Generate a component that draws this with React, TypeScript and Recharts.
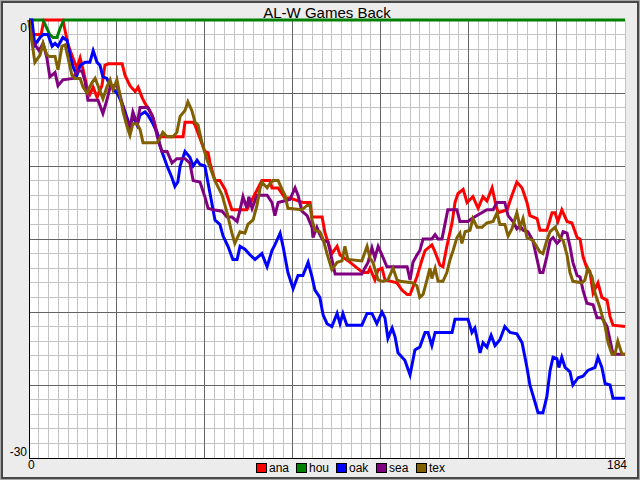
import React from 'react';
import { LineChart, Line, XAxis, YAxis, CartesianGrid, Legend } from 'recharts';

// [game, games back]
const anaPoints: [number, number][] = [
  [0,0],[1.2,-1],[3.7,-1],[4.6,0],[10.4,0],[12,-1.7],[13.5,-2.6],[14.7,-3.3],[15.7,-2.6],[16.6,-3.4],
  [17.8,-4.6],[18.7,-5.1],[19.7,-4.6],[20.9,-5.3],[22.4,-4.5],[23.3,-3.1],[24.3,-3],[28.6,-3],[29.5,-3.8],[31,-4.5],
  [32.6,-4.9],[33.5,-4.6],[34.7,-5.3],[35.6,-5.7],[36.5,-6],[37.8,-6.5],[38.7,-7.2],[39.6,-7.9],[40.8,-8],[47.3,-8],
  [47.9,-7],[50.4,-7],[51,-7.2],[54,-9],[55,-9.1],[55.6,-9.8],[57.1,-11],[58.6,-11],[60.2,-11.6],[62.3,-13],
  [66.9,-13],[71.5,-11],[74,-11],[74.6,-11.5],[76.5,-11.5],[78.6,-12.2],[80.1,-12.2],[84.1,-12.5],[86.3,-12.5],[86.9,-13.5],
  [90,-13.5],[90.9,-14.6],[93,-16],[94.6,-15.5],[95.5,-16.1],[98.6,-16.6],[102.5,-17.3],[104.1,-17.3],[104.7,-17],[106.2,-17.8],
  [107.2,-17.1],[108.4,-17],[109.3,-17.8],[113,-18],[114.5,-18.5],[116.1,-18.8],[117,-18.8],[119.1,-17.6],[120.7,-16.4],[121.6,-15.8],
  [123.7,-15.4],[124.7,-15.9],[126.2,-16.8],[127.1,-16.9],[128.3,-15.5],[129.9,-13.9],[130.8,-12.5],[131.7,-11.9],[133.3,-11.6],[134.5,-12.5],
  [136.3,-12.1],[137.9,-12.9],[139.4,-12.1],[140.6,-12.4],[142.2,-11.5],[143.1,-12.4],[144,-13.2],[146.8,-13],[148.3,-12],[149.8,-11.1],
  [151.4,-11.5],[152.9,-12.5],[153.8,-13.4],[156,-13.6],[156.9,-14.4],[159,-14.4],[160.6,-13.2],[161.5,-13.2],[162.4,-13.8],[163.6,-13],
  [165.2,-13.8],[166.7,-13.9],[168.3,-14.9],[169.2,-15],[170.1,-16.2],[171.3,-17],[172.2,-17.2],[173.2,-18.7],[174.7,-18],[175.9,-19],
  [177.5,-19.2],[178.4,-20.3],[179.3,-20.9],[183,-21],
];

const houPoints: [number, number][] = [
  [0,0],[4.3,0],[6.4,-1],[7.4,-1.2],[8.6,-1.2],[9.5,-0.6],[10.7,0],[183,0],
];

const oakPoints: [number, number][] = [
  [0,0],[0.9,0],[1.8,-1.7],[3.4,-1.2],[4.3,-1],[5.8,-1],[7.1,-1.8],[8,-1.6],[8.9,-1.8],[10.4,-1.2],
  [11.7,-1.4],[12.6,-2.4],[13.5,-3.2],[14.7,-3.8],[15.7,-3.1],[17.2,-2.9],[18.7,-2.9],[19.7,-2.1],[20.9,-2.9],[21.8,-3.1],
  [22.7,-3.9],[23.9,-4],[24.9,-4.5],[25.8,-4.7],[27.3,-5.1],[28.9,-5.9],[30.1,-6.7],[31,-7.3],[31.9,-6.6],[33.2,-7.2],
  [34.1,-6.5],[35.6,-6.3],[36.5,-6.5],[37.8,-7],[39.3,-7.7],[40.2,-8.6],[41.1,-9.2],[42.4,-10],[43.9,-10.8],[44.8,-11.4],
  [45.7,-11.1],[46.4,-10],[47.9,-9],[49.4,-9.4],[50.4,-10],[51.6,-9.6],[52.5,-9.9],[54,-10],[55.6,-11.9],[57.1,-13.7],
  [58.6,-14],[59.6,-14.8],[61.1,-15.5],[62.6,-16.4],[63.9,-16.4],[64.8,-15.5],[66.3,-15.7],[67.9,-16.1],[69.4,-16.4],[71.5,-16],
  [73.1,-16.9],[74.6,-15.8],[75.5,-15.4],[77.1,-14.6],[78,-15.5],[79.5,-17.3],[81.1,-18.4],[82.6,-17.5],[84.1,-17.5],[85.7,-16.6],
  [86.9,-17.6],[87.8,-18.5],[89.3,-19],[90.3,-20.2],[91.5,-20.8],[93,-21],[94.6,-20.1],[95.5,-20.8],[96.4,-20.1],[97.6,-20.9],
  [102.2,-20.9],[103.8,-20.1],[105.3,-20.1],[106.8,-20.8],[108.4,-20],[109.3,-20.4],[110.2,-21.8],[111.5,-21.1],[112.4,-21.7],[113.3,-22.8],
  [115.4,-23.3],[117,-24.3],[118.5,-22.6],[120,-22.4],[121.6,-21.4],[122.5,-21.4],[123.7,-22.3],[124.7,-21.4],[129.9,-21.4],[130.8,-20.5],
  [134.8,-20.5],[136,-21.4],[136.9,-21.1],[138.5,-22.8],[139.4,-22.1],[140.6,-22.4],[141.9,-21.6],[143.1,-22.3],[144.6,-21.9],[146.1,-21],
  [147.7,-21.4],[149.8,-21.5],[151.4,-22.1],[152.9,-23.8],[153.8,-25],[155.4,-26.2],[156.3,-26.9],[157.8,-26.9],[159,-25.8],[160,-24],
  [160.9,-23.1],[162.1,-23.2],[162.7,-23.8],[163.6,-23.1],[164.6,-23.8],[166.1,-24.1],[167,-25],[168.6,-24.5],[170.1,-24.4],[171.6,-24],
  [173.8,-23.8],[174.7,-23.1],[175.9,-23.8],[176.9,-24.9],[178.4,-25],[179.3,-25.9],[183,-25.9],
];

const seaPoints: [number, number][] = [
  [0,0],[1.2,-1.5],[3.1,-2.1],[4.3,-1.6],[5.5,-2.6],[6.4,-3.9],[8,-3.6],[8.9,-4.5],[10.4,-4.1],[13.5,-4],
  [14.7,-3.5],[16.3,-3.5],[17.2,-4.2],[18.1,-5.5],[21.2,-5.5],[22.7,-6.4],[23.9,-5.5],[24.9,-4.6],[27,-4.4],[28.6,-5.7],
  [29.5,-6.5],[31,-7.4],[31.9,-6.3],[33.2,-7.1],[34.1,-6],[36.5,-6],[38.1,-6.7],[39.3,-7.9],[40.8,-9],[42.4,-9],
  [43.9,-9.8],[45.4,-9.5],[47.9,-9.5],[49.4,-9.8],[50.4,-11],[52.5,-11.1],[54,-12.1],[55,-12.9],[56.5,-13],[59.3,-13.1],
  [60.8,-13.5],[62.3,-13.5],[63.9,-13.8],[64.8,-13],[65.7,-12.1],[66.9,-12.9],[67.5,-12.1],[68.5,-12.9],[70,-12],[73.1,-12],
  [74.6,-12.5],[75.5,-13.4],[76.5,-12.5],[80.1,-12.3],[81.7,-11.5],[82.6,-12],[83.8,-13.1],[85.4,-13.4],[86.9,-14.2],[87.2,-14.9],
  [88.4,-14.2],[89.3,-14.7],[90.3,-15.1],[91.8,-15.2],[93,-16.4],[94,-17.4],[102.2,-17.4],[103.1,-17],[104.1,-16.6],[105.3,-15.6],
  [106.2,-16.3],[107.2,-15.5],[108.4,-16.1],[109.9,-16.9],[116.1,-16.9],[117,-17.8],[117.9,-16.6],[119.1,-16.1],[120,-15.8],[121,-15],
  [123.7,-15],[124.7,-14.7],[125.6,-15],[126.8,-15],[127.7,-14],[128.6,-13],[131.4,-13],[132.3,-13.8],[134.8,-13.8],[136,-13.6],
  [140.6,-13],[142.5,-13],[143.7,-12.5],[146.1,-12.5],[147.1,-13.4],[148.6,-13.8],[149.8,-14.3],[150.8,-14.1],[151.7,-14.4],[153.2,-14.5],
  [154.7,-15.1],[156,-16.4],[156.9,-17.3],[157.8,-17.3],[159,-16.2],[160,-15.1],[160.9,-14.9],[162.1,-15.3],[163,-15.1],[164,-14.5],
  [165.2,-14.6],[166.1,-15.5],[167,-16.6],[168.3,-17.5],[169.2,-17.6],[170.1,-18.5],[171.3,-19.4],[173.2,-19.5],[174.4,-20.4],[175.9,-20.4],
  [177.5,-21],[178.4,-21.9],[179.3,-22.9],[183,-22.9],
];

const texPoints: [number, number][] = [
  [0,0],[0.9,-1.5],[1.8,-2.9],[3.4,-2.4],[4.3,-1.6],[5.5,-2.4],[6.4,-2.5],[8,-2.5],[8.9,-3.4],[10.1,-1.8],
  [11.1,-1.7],[12,-2.6],[13.2,-3.8],[14.1,-4],[15.7,-4],[16.6,-4.6],[17.8,-5],[19.3,-4.3],[20.3,-4],[21.2,-4.5],
  [22.7,-5.4],[23.9,-4.6],[24.9,-4.1],[25.8,-4.8],[27,-4.1],[27.9,-5.1],[28.9,-6.3],[30.1,-7.3],[31,-7.9],[31.9,-7.1],
  [33.2,-7.1],[34.1,-7.5],[35,-8.4],[39.3,-8.4],[40.2,-8.1],[41.1,-7.7],[42.4,-8],[44.2,-8],[45.4,-7.7],[46.4,-6.6],
  [47.9,-6.2],[48.8,-5.6],[50,-6.2],[51,-7],[51.9,-7.2],[53.1,-8.4],[54.7,-9.6],[55.6,-10.1],[57.1,-11],[59.3,-12],
  [60.8,-13.2],[62.3,-14.6],[63.2,-15.3],[64.8,-14.5],[66.3,-14.6],[67.2,-14],[68.8,-13.7],[70,-12.7],[70.9,-11.6],[71.5,-11.1],
  [73.1,-11.5],[74,-11.2],[74.9,-11],[76.5,-11],[77.7,-11.6],[78.6,-12],[79.5,-12.9],[83.8,-13],[85.4,-12.7],[86.3,-12.7],
  [86.9,-13.7],[87.8,-14.4],[89.3,-14.5],[90.3,-15],[91.5,-16],[93,-17.1],[94.6,-16.6],[96.1,-16.5],[97,-15.5],[97.9,-16.4],
  [102.2,-16.5],[103.8,-15.5],[104.7,-16.3],[105.6,-16.6],[107.2,-17.8],[108.7,-17.9],[110.2,-17.8],[111.8,-17],[113,-17.8],[113.9,-17.9],
  [117.6,-18],[119.1,-18.2],[120,-19],[121,-18.8],[122.2,-17.8],[123.1,-17],[123.7,-17.7],[124.7,-17],[125.6,-17.9],[127.1,-17.9],
  [128.3,-17.3],[129.3,-16.4],[130.2,-15.8],[131.4,-14.9],[132.3,-14.6],[132.9,-15.3],[133.9,-14.5],[135.4,-14.4],[136.3,-13.6],[137.6,-14.2],
  [139.1,-14.2],[140.6,-13.9],[142.5,-13.8],[143.7,-13.2],[144.6,-14],[146.1,-14],[147.1,-14.8],[148.3,-14.3],[149.8,-13.2],[150.8,-14.2],
  [151.7,-13.6],[152.9,-14.9],[154.7,-15.1],[156.9,-15.9],[157.8,-16],[159,-15.1],[160,-14.5],[161.5,-14.2],[163,-14.9],[164,-15.1],
  [165.2,-16.1],[166.1,-17.3],[167,-17.9],[169.8,-18],[170.7,-17.8],[171.6,-17],[172.9,-17.6],[173.8,-18.7],[175.3,-19.7],[176.9,-21],
  [177.8,-22.1],[179,-22.9],[179.9,-22.9],[180.8,-22],[182.1,-22.9],[183,-22.9],
];

const seriesNames = ['ana', 'hou', 'oak', 'sea', 'tex'];
const seriesColors = ['#ff0000', '#008000', '#0000ff', '#800080', '#806000'];
const seriesPoints = [anaPoints, houPoints, oakPoints, seaPoints, texPoints];

const xTicks = [0, 183];
const xTickLabels = ['0', '184'];
const yTicks = [-30, 0];
const yTickLabels = ['-30', '0'];
const title = 'AL-W Games Back';

const minorX = Array.from({ length: 62 }, (_, i) => i * 3);
const majorX = Array.from({ length: 6 }, (_, i) => (i + 1) * 27);
const minorY = Array.from({ length: 31 }, (_, i) => -i);
const majorY = Array.from({ length: 7 }, (_, i) => -i * 5);

const FONT = '"Liberation Sans", Arial, Helvetica, sans-serif';

const series = seriesNames.map((name, i) => ({
  name,
  color: seriesColors[i],
  data: seriesPoints[i].map(([g, v]) => ({ g, v })),
}));

const XTick = (props: any) => {
  const { x, y, index } = props;
  const first = index === 0;
  return (
    <text x={x + (first ? -1 : 2)} y={y + 11} textAnchor={first ? 'start' : 'end'}
      fontFamily={FONT} fontSize={12} fill="#000">{xTickLabels[index]}</text>
  );
};

const YTick = (props: any) => {
  const { x, y, index } = props;
  return (
    <text x={x} y={y + (index === 0 ? -2 : 12)} textAnchor="end"
      fontFamily={FONT} fontSize={12} fill="#000">{yTickLabels[index]}</text>
  );
};

const renderLegend = () => (
  <div style={{ position: 'absolute', left: 0, top: 0, width: 0, height: 0 }}>
    {series.map((s, i) => (
      <div key={s.name} style={{ position: 'absolute', left: 256 + 40 * i, top: 463 }}>
        <div style={{ position: 'absolute', left: 0, top: 0, width: 11, height: 10, boxSizing: 'border-box', border: '1px solid #000', background: s.color }} />
        <span style={{ position: 'absolute', left: 13, top: -1, fontFamily: FONT, fontSize: 12, lineHeight: '12px', whiteSpace: 'nowrap', color: '#000' }}>{s.name}</span>
      </div>
    ))}
  </div>
);

export default function App() {
  return (
    <div style={{ position: 'absolute', left: 0, top: 0, width: 640, height: 480, background: '#ececec', fontFamily: FONT, overflow: 'hidden' }}>
      <style>{`.recharts-cartesian-grid line, .recharts-cartesian-axis-line { shape-rendering: crispEdges; }`}</style>
      <div style={{ position: 'absolute', left: 0, top: 0, width: 640, height: 480, boxSizing: 'border-box', border: '1px solid #a8a8a8', boxShadow: 'inset 0 0 0 2px #484848' }} />
      <div style={{ position: 'absolute', left: 0, top: 0 }}>
        <LineChart width={640} height={480} margin={{ top: 20, right: 15, bottom: 0, left: 0 }}>
          <CartesianGrid fill="#ffffff" stroke="#c4c4c4" verticalValues={minorX} horizontalValues={minorY} />
          <CartesianGrid fill="none" stroke="#646464" verticalValues={majorX} horizontalValues={majorY} />
          <XAxis type="number" dataKey="g" domain={[0, 183]} ticks={xTicks} interval={0} height={22}
            tickSize={0} tickMargin={0} tickLine={false} axisLine={{ stroke: '#000' }} tick={XTick} />
          <XAxis xAxisId="top" orientation="top" type="number" dataKey="g" domain={[0, 183]} height={0}
            tick={false} tickLine={false} axisLine={{ stroke: '#000' }} />
          <YAxis type="number" domain={[-30, 0]} ticks={yTicks} interval={0} width={29}
            tickSize={0} tickMargin={2} tickLine={false} axisLine={{ stroke: '#000' }} tick={YTick} />
          <YAxis yAxisId="right" orientation="right" type="number" domain={[-30, 0]} width={0}
            tick={false} tickLine={false} axisLine={{ stroke: '#000' }} />
          <Legend content={renderLegend} wrapperStyle={{ position: 'absolute', left: 0, top: 0, width: 0, height: 0 }} />
          {series.map((s) => (
            <Line key={s.name} name={s.name} data={s.data} dataKey="v" type="linear" stroke={s.color}
              strokeWidth={3} dot={false} activeDot={false} isAnimationActive={false} />
          ))}
        </LineChart>
      </div>
      <div style={{ position: 'absolute', left: 0, top: 4, width: 654, textAlign: 'center', fontFamily: FONT, fontSize: 15, lineHeight: '17px', color: '#000', whiteSpace: 'nowrap' }}>{title}</div>
    </div>
  );
}
